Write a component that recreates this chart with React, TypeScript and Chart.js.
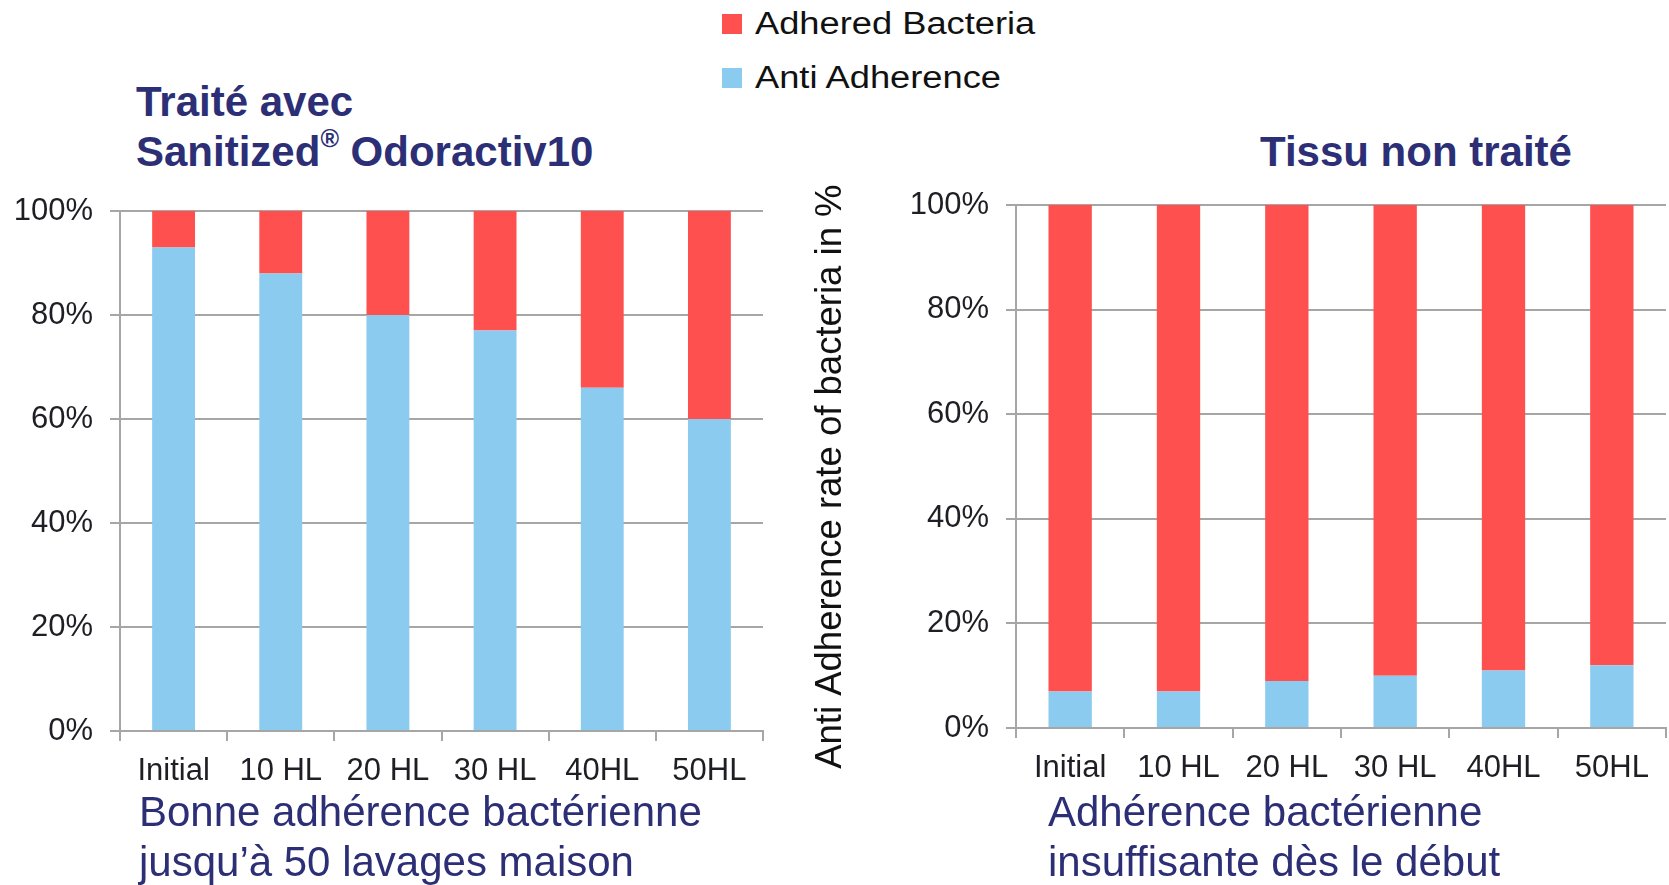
import React, { useEffect, useRef } from "react";
import Chart from "chart.js/auto";

const categories = ["Initial", "10 HL", "20 HL", "30 HL", "40HL", "50HL"];
const treatedAnti = [93, 88, 80, 77, 66, 60];
const treatedAdhered = [7, 12, 20, 23, 34, 40];
const untreatedAnti = [7, 7, 9, 10, 11, 12];
const untreatedAdhered = [93, 93, 91, 90, 89, 88];
const yTickValues = [0, 20, 40, 60, 80, 100];
const seriesNames = ["Anti Adherence", "Adhered Bacteria"];
const legendOrder = ["Adhered Bacteria", "Anti Adherence"];
const yAxisTitle = "Anti Adherence rate of bacteria in %\u00A0\u00A0";

const RED = "#FF5050";
const BLUE = "#8BCBEF";
const GRID = "#A6A6A6";
const TICK_COLOR = "#1E1E24";
const NAVY = "#2C2F76";
const FONT = "'Liberation Sans', Arial, Helvetica, sans-serif";

type Cfg = {
  anti: number[];
  adhered: number[];
  yWidth: number;
  xHeight: number;
  padTop: number;
  padRight: number;
  showTitle: boolean;
};

function makeChart(canvas: HTMLCanvasElement, cfg: Cfg) {
  return new Chart(canvas, {
    type: "bar",
    data: {
      labels: categories,
      datasets: [
        {
          label: seriesNames[0],
          data: cfg.anti,
          backgroundColor: BLUE,
          borderWidth: 0,
          barPercentage: 0.4,
          categoryPercentage: 1,
        },
        {
          label: seriesNames[1],
          data: cfg.adhered,
          backgroundColor: RED,
          borderWidth: 0,
          barPercentage: 0.4,
          categoryPercentage: 1,
        },
      ],
    },
    options: {
      responsive: false,
      animation: false,
      devicePixelRatio: 1,
      layout: { padding: { left: 0, right: cfg.padRight, top: cfg.padTop, bottom: 0 } },
      plugins: {
        legend: { display: false },
        tooltip: { enabled: false },
        title: { display: false },
      },
      scales: {
        x: {
          stacked: true,
          grid: {
            offset: true,
            drawOnChartArea: false,
            drawTicks: true,
            tickLength: 10,
            color: GRID,
            lineWidth: 2,
          },
          border: { display: true, color: GRID, width: 2 },
          ticks: {
            font: { family: FONT, size: 31 },
            color: TICK_COLOR,
            padding: 12,
            maxRotation: 0,
            autoSkip: false,
          },
          afterFit: (s: any) => {
            s.height = cfg.xHeight;
            s.paddingLeft = 0;
            s.paddingRight = 0;
          },
        },
        y: {
          stacked: true,
          min: 0,
          max: 100,
          afterBuildTicks: (s: any) => {
            s.ticks = yTickValues.map((v) => ({ value: v }));
          },
          ticks: {
            callback: (v: any) => v + "%",
            font: { family: FONT, size: 31 },
            color: TICK_COLOR,
            padding: 17,
          },
          grid: { color: GRID, lineWidth: 2, tickLength: 10, drawTicks: true },
          border: { display: true, color: GRID, width: 2 },
          title: {
            display: cfg.showTitle,
            text: yAxisTitle,
            font: { family: FONT, size: 36.5 },
            color: "#111111",
            padding: { top: 9, bottom: 0 },
          },
          afterFit: (s: any) => {
            s.width = cfg.yWidth;
            s.paddingTop = 0;
            s.paddingBottom = 0;
          },
        },
      },
    },
  } as any);
}

function BarChart(props: {
  left: number;
  top: number;
  width: number;
  height: number;
  cfg: Cfg;
}) {
  const ref = useRef<HTMLCanvasElement | null>(null);
  useEffect(() => {
    if (!ref.current) return;
    const chart = makeChart(ref.current, props.cfg);
    return () => chart.destroy();
  }, []);
  return (
    <canvas
      ref={ref}
      width={props.width}
      height={props.height}
      style={{
        position: "absolute",
        left: props.left,
        top: props.top,
        width: props.width,
        height: props.height,
      }}
    />
  );
}

const legendColors: Record<string, string> = {
  "Adhered Bacteria": RED,
  "Anti Adherence": BLUE,
};

export default function App() {
  const bigText: React.CSSProperties = {
    position: "absolute",
    fontFamily: FONT,
    fontSize: 42,
    lineHeight: "50px",
    color: NAVY,
    whiteSpace: "nowrap",
    margin: 0,
  };
  return (
    <div
      style={{
        position: "absolute",
        left: 0,
        top: 0,
        width: 1669,
        height: 885,
        overflow: "hidden",
        background: "#ffffff",
      }}
    >
      {/* Legend */}
      {legendOrder.map((name, i) => (
        <div key={name}>
          <div
            style={{
              position: "absolute",
              left: 722,
              top: 14 + i * 54,
              width: 20,
              height: 20,
              background: legendColors[name],
            }}
          />
          <div
            style={{
              position: "absolute",
              left: 755,
              top: 24 + i * 54 - 18,
              height: 36,
              lineHeight: "36px",
              fontFamily: FONT,
              fontSize: 31,
              color: "#111111",
              whiteSpace: "nowrap",
              transform: "scaleX(1.17)",
              transformOrigin: "left center",
            }}
          >
            {name}
          </div>
        </div>
      ))}

      {/* Titles */}
      <div style={{ ...bigText, left: 136, top: 77, fontWeight: "bold" }}>
        <div>Traité avec</div>
        <div>
          Sanitized
          <span style={{ fontSize: "0.6em", position: "relative", top: "-0.75em" }}>®</span>{" "}
          Odoractiv10
        </div>
      </div>
      <div style={{ ...bigText, left: 1260, top: 127, fontWeight: "bold" }}>Tissu non traité</div>

      {/* Charts */}
      <BarChart
        left={0}
        top={190}
        width={800}
        height={610}
        cfg={{
          anti: treatedAnti,
          adhered: treatedAdhered,
          yWidth: 120,
          xHeight: 69,
          padTop: 21,
          padRight: 37,
          showTitle: false,
        }}
      />
      <BarChart
        left={800}
        top={180}
        width={869}
        height={620}
        cfg={{
          anti: untreatedAnti,
          adhered: untreatedAdhered,
          yWidth: 216,
          xHeight: 72,
          padTop: 25,
          padRight: 3,
          showTitle: true,
        }}
      />

      {/* Captions */}
      <div style={{ ...bigText, left: 139, top: 787 }}>
        <div>Bonne adhérence bactérienne</div>
        <div>jusqu’à 50 lavages maison</div>
      </div>
      <div style={{ ...bigText, left: 1048, top: 787 }}>
        <div>Adhérence bactérienne</div>
        <div>insuffisante dès le début</div>
      </div>
    </div>
  );
}
